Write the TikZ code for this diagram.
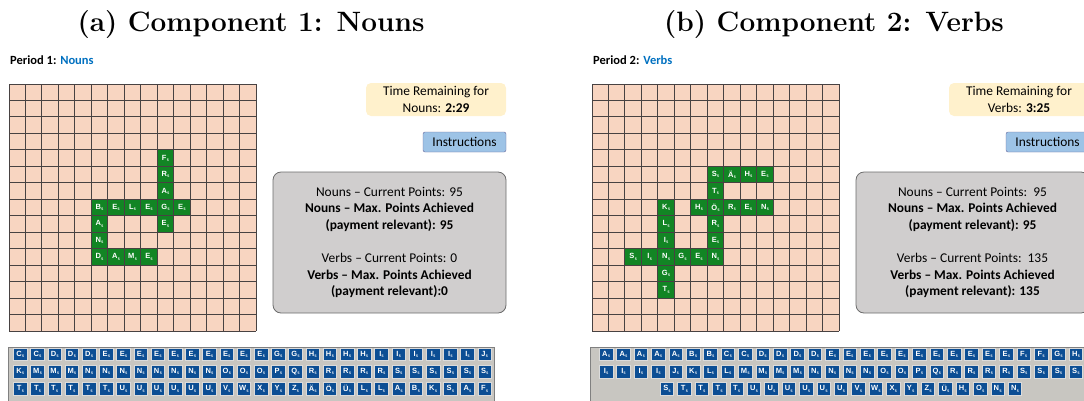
\documentclass[tikz,border=0pt]{standalone}
\usepackage{fontspec}
\newfontfamily\calibri{Carlito}
\newfontfamily\arialfont{Liberation Sans}

\definecolor{peach}{RGB}{248,213,193}
\definecolor{gridgray}{RGB}{72,66,66}
\definecolor{tilegreen}{RGB}{18,133,36}
\definecolor{tileblue}{RGB}{12,78,148}
\definecolor{rackgray}{RGB}{200,198,193}
\definecolor{timeyellow}{RGB}{255,241,204}
\definecolor{instrblue}{RGB}{157,195,230}
\definecolor{pointsgray}{RGB}{208,206,206}
\definecolor{periodblue}{RGB}{0,112,192}

\newcommand{\cellsz}{16.4667}
\newcommand{\tilelet}[1]{#1\kern0.4pt\raisebox{-1.2pt}{\fontsize{3.6}{4}\selectfont 5}}

\begin{document}
\begin{tikzpicture}[x=1pt,y=-1pt,
  gtile/.style={fill=tilegreen,minimum width=\cellsz pt,minimum height=\cellsz pt,inner sep=0pt,
    text=white,font=\arialfont\bfseries\fontsize{7.5}{8}\selectfont},
  rtile/.style={fill=tileblue,draw=white!72!gray,line width=0.7pt,minimum width=13.5pt,minimum height=12.5pt,
    inner sep=0pt,text=white,font=\arialfont\bfseries\fontsize{7.5}{8}\selectfont},
  gridline/.style={gridgray,line width=0.9pt},
  boxtext/.style={font=\calibri\fontsize{13.4}{16.6}\selectfont,align=center,inner sep=0pt},
  title/.style={font=\fontsize{28}{30}\selectfont\bfseries,anchor=base},
  period/.style={font=\calibri\bfseries\fontsize{12.5}{14}\selectfont,anchor=base west,inner sep=0pt}]
  \useasboundingbox (0,0) rectangle (1084,400);
  \clip (0,0) rectangle (1084,400);

  \node[title] (titA) at (251,31) {(a) Component 1: Nouns};
  \node[title] (titB) at (834,31) {(b) Component 2: Verbs};
  \node[period] (perA) at (10,64) {Period 1: \textcolor{periodblue}{Nouns}};
  \node[period] (perB) at (593,64) {Period 2: \textcolor{periodblue}{Verbs}};

  % boards
  \foreach \ox in {0,583}{\fill[peach] ({9+\ox},84) rectangle ({256+\ox},331);}
  \foreach \c/\r/\l in {9/4/F,9/5/R,9/6/A,5/7/B,6/7/E,7/7/L,8/7/E,9/7/G,10/7/E,9/8/E,
      5/8/A,5/9/N,5/10/D,6/10/A,7/10/M,8/10/E}{
    \node[gtile] (nouns-\c-\r) at ({9+(\c+0.5)*\cellsz},{84+(\r+0.5)*\cellsz}) {\tilelet{\l}};}
  \foreach \c/\r/\l in {7/5/S,8/5/Ä,9/5/H,10/5/E,7/6/T,4/7/K,6/7/H,7/7/Ö,8/7/R,9/7/E,10/7/N,
      4/8/L,7/8/R,4/9/I,7/9/E,2/10/S,3/10/I,4/10/N,5/10/G,6/10/E,7/10/N,4/11/G,4/12/T}{
    \node[gtile] (verbs-\c-\r) at ({592+(\c+0.5)*\cellsz},{84+(\r+0.5)*\cellsz}) {\tilelet{\l}};}
  \foreach \ox in {0,583}{
    \foreach \i in {0,...,15}{
      \draw[gridline] ({9+\ox+\i*\cellsz},84) -- ({9+\ox+\i*\cellsz},331);
      \draw[gridline] ({9+\ox},{84+\i*\cellsz}) -- ({256+\ox},{84+\i*\cellsz});}}

  % side boxes
  \node[boxtext,fill=timeyellow,rounded corners=5pt,minimum width=140pt,minimum height=33pt]
    (timeA) at (436,99.5) {Time Remaining for\\Nouns: \textbf{2:29}};
  \node[boxtext,fill=instrblue,draw=gray!80!blue,rounded corners=2pt,minimum width=83pt,minimum height=20pt]
    (instrA) at (464.5,142) {Instructions};
  \node[boxtext,fill=pointsgray,draw=gray!85!black,line width=0.8pt,rounded corners=8pt,
    minimum width=233pt,minimum height=141pt] (pointsA) at (389.5,242.5)
    {Nouns – Current Points: 95\\\textbf{Nouns – Max. Points Achieved}\\\textbf{(payment relevant): 95}\\[16.6pt]
     Verbs – Current Points: 0\\\textbf{Verbs – Max. Points Achieved}\\\textbf{(payment relevant):0}};
  \begin{scope}[xshift=583pt]
    \node[boxtext,fill=timeyellow,rounded corners=5pt,minimum width=140pt,minimum height=33pt]
      (timeB) at (436,99.5) {Time Remaining for\\Verbs: \textbf{3:25}};
    \node[boxtext,fill=instrblue,draw=gray!80!blue,rounded corners=2pt,minimum width=83pt,minimum height=20pt]
      (instrB) at (464.5,142) {Instructions};
    \node[boxtext,fill=pointsgray,draw=gray!85!black,line width=0.8pt,rounded corners=8pt,
      minimum width=233pt,minimum height=141pt] (pointsB) at (389.5,242.5)
      {Nouns – Current Points:\ \ 95\\\textbf{Nouns – Max. Points Achieved}\\\textbf{(payment relevant): 95}\\[16.6pt]
       Verbs – Current Points:\ \ 135\\\textbf{Verbs – Max. Points Achieved}\\\textbf{(payment relevant): 135}};
  \end{scope}

  % letter racks
  \draw[fill=rackgray,draw=gray,line width=0.8pt] (8,347) rectangle (494,410);
  \draw[fill=rackgray,draw=gray,line width=0.8pt] (590,347) rectangle (1110,410);
  \foreach \l [count=\i from 0] in {C,C,D,D,D,E,E,E,E,E,E,E,E,E,E,G,G,H,H,H,H,I,I,I,I,I,I,J}{
    \node[rtile] (rackA1-\i) at ({20.3+\i*17.2},354.5) {\tilelet{\l}};}
  \foreach \l [count=\i from 0] in {K,M,M,M,N,N,N,N,N,N,N,N,O,O,O,P,Q,R,R,R,R,R,S,S,S,S,S,S}{
    \node[rtile] (rackA2-\i) at ({20.3+\i*17.2},371.7) {\tilelet{\l}};}
  \foreach \l [count=\i from 0] in {T,T,T,T,T,T,U,U,U,U,U,U,V,W,X,Y,Z,Ä,Ö,Ü,L,L,A,B,K,S,A,F}{
    \node[rtile] (rackA3-\i) at ({20.3+\i*17.2},388.9) {\tilelet{\l}};}
  \foreach \l [count=\i from 0] in {A,A,A,A,A,B,B,C,C,D,D,D,D,E,E,E,E,E,E,E,E,E,E,E,F,F,G,H}{
    \node[rtile] (rackB1-\i) at ({606.1+\i*17.4},354.5) {\tilelet{\l}};}
  \foreach \l [count=\i from 0] in {I,I,I,I,J,K,L,L,M,M,M,M,N,N,N,N,O,O,P,Q,R,R,R,R,S,S,S,S}{
    \node[rtile] (rackB2-\i) at ({606.1+\i*17.4},371.7) {\tilelet{\l}};}
  \foreach \l [count=\i from 0] in {S,T,T,T,T,U,U,U,U,U,U,V,W,X,Y,Z,Ü,H,O,N,N}{
    \node[rtile] (rackB3-\i) at ({667+\i*17.4},388.9) {\tilelet{\l}};}
\end{tikzpicture}
\end{document}
